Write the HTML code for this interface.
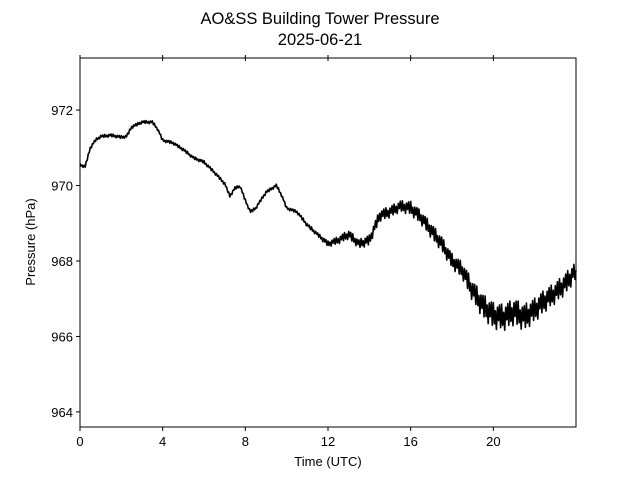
<!DOCTYPE html>
<html><head><meta charset="utf-8"><style>
body{margin:0;background:#fff}
svg{display:block;font-family:"Liberation Sans","DejaVu Sans",sans-serif}
</style></head><body>
<svg id="chart" width="640" height="480" viewBox="0 0 640 480">
<rect width="640" height="480" fill="#fff"/>
<text x="320" y="24" text-anchor="middle" font-size="16.5">AO&amp;SS Building Tower Pressure</text>
<text x="320" y="45" text-anchor="middle" font-size="16.5">2025-06-21</text>
<g id="plot"></g>
<rect x="80" y="58" width="496" height="369" fill="none" stroke="#000" stroke-width="1"/>
<text x="328" y="466" text-anchor="middle" font-size="13">Time (UTC)</text>
<text transform="translate(35,242) rotate(-90)" text-anchor="middle" font-size="13">Pressure (hPa)</text>
</svg>
<script>
const hours=[0,0.25,0.5,0.75,1,1.5,2,2.25,2.5,3,3.5,3.75,4,4.5,5,5.5,6,6.5,7,7.25,7.5,7.75,8,8.25,8.5,9,9.5,9.75,10,10.5,11,11.5,12,12.5,13,13.5,14,14.5,15,15.5,16,16.5,17,17.5,18,18.5,19,19.5,20,20.5,21,21.5,22,22.5,23,23.5,24];
const pressure=[970.55,970.5,971.0,971.2,971.3,971.33,971.28,971.3,971.55,971.68,971.68,971.5,971.2,971.13,970.95,970.73,970.62,970.35,970.05,969.72,969.93,969.98,969.6,969.3,969.4,969.82,970.0,969.75,969.4,969.3,968.95,968.7,968.45,968.55,968.7,968.45,968.55,969.2,969.3,969.45,969.4,969.15,968.8,968.45,968.0,967.75,967.2,966.8,966.55,966.5,966.65,966.5,966.7,966.95,967.15,967.4,967.75];
const noise=[0.04,0.04,0.04,0.04,0.04,0.04,0.04,0.04,0.04,0.04,0.04,0.04,0.04,0.04,0.04,0.04,0.04,0.04,0.04,0.04,0.04,0.04,0.04,0.04,0.04,0.04,0.04,0.04,0.04,0.04,0.05,0.05,0.08,0.1,0.12,0.12,0.14,0.15,0.15,0.15,0.18,0.18,0.2,0.2,0.2,0.22,0.28,0.32,0.35,0.35,0.35,0.35,0.32,0.3,0.28,0.28,0.25];
const xTicks=[0,4,8,12,16,20];
const yTicks=[964,966,968,970,972];
const X0=80,X1=576,Y0=427,Y1=58,XMIN=0,XMAX=24,YMIN=963.6,YMAX=973.38;
const xs=v=>X0+(v-XMIN)/(XMAX-XMIN)*(X1-X0);
const ys=v=>Y0-(v-YMIN)/(YMAX-YMIN)*(Y0-Y1);
const NS="http://www.w3.org/2000/svg";
const svg=document.getElementById('chart');
const plot=document.getElementById('plot');
function mk(t,a,p){const e=document.createElementNS(NS,t);for(const k in a)e.setAttribute(k,a[k]);(p||svg).appendChild(e);return e;}
// series with per-segment jitter derived from noise array
let d="";const pat=[1,-0.6,0.4,-1,0.7,-0.3,0.9,-0.8];let k=0;
for(let i=0;i<hours.length-1;i++){
  const n=Math.max(2,Math.round((hours[i+1]-hours[i])*20));
  for(let j=0;j<n;j++){
    const t=hours[i]+(hours[i+1]-hours[i])*j/n;
    const f=j/n;
    const v=pressure[i]*(1-f)+pressure[i+1]*f+pat[k++%pat.length]*(noise[i]*(1-f)+noise[i+1]*f);
    d+=(d?"L":"M")+xs(t).toFixed(1)+","+ys(v).toFixed(1);
  }
}
d+="L"+xs(hours[hours.length-1]).toFixed(1)+","+ys(pressure[pressure.length-1]).toFixed(1);
const line=mk('path',{d:d,fill:'none',stroke:'#000','stroke-width':1.6,'stroke-linejoin':'round'},plot);


xTicks.forEach(v=>{
  const x=xs(v);
  const t=mk('line',{x1:x,x2:x,y1:Y0,y2:Y0+4,stroke:'#000'});
  
  
  const t2=mk('line',{x1:x,x2:x,y1:Y1-3,y2:Y1+3,stroke:'#000'});
  
  
  const l=mk('text',{x:x,y:Y0+19,'text-anchor':'middle','font-size':13});
  l.textContent=v;
  
  
});
yTicks.forEach(v=>{
  const y=ys(v);
  const t=mk('line',{x1:X0-4,x2:X0,y1:y,y2:y,stroke:'#000'});
  
  
  const l=mk('text',{x:X0-7,y:y+5,'text-anchor':'end','font-size':13});
  l.textContent=v;
  
  
});
</script>
</body></html>
